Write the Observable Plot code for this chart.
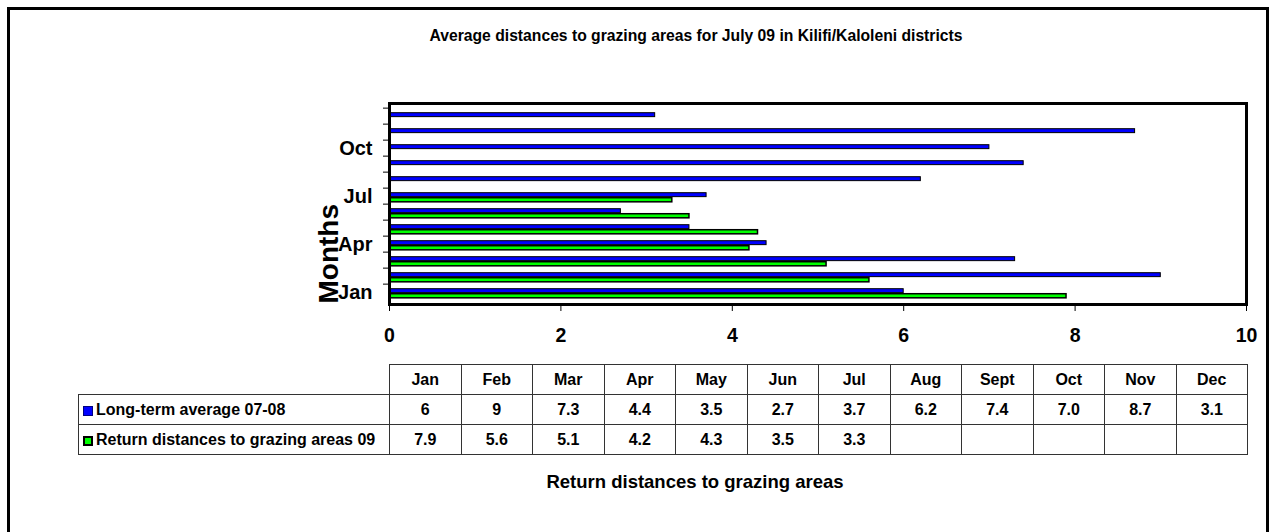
<!DOCTYPE html>
<html>
<head>
<meta charset="utf-8">
<script src="https://cdn.jsdelivr.net/npm/d3@7"></script>
<script src="https://cdn.jsdelivr.net/npm/@observablehq/plot@0.6"></script>
<style>
  html, body { margin: 0; padding: 0; background: #fff; }
  #wrap { position: relative; width: 1277px; height: 532px; overflow: hidden; font-family: Arial, "Liberation Sans", sans-serif; }
  #outer { position: absolute; left: 7px; top: 7px; width: 1262px; height: 560px; border: 3px solid #000; box-sizing: border-box; }
  #title { position: absolute; left: 0; width: 1392px; top: 27px; text-align: center; font-weight: bold; font-size: 15.7px; }
  #chart { position: absolute; left: 0; top: 0; }
  #tbl { position: absolute; left: 78px; top: 364px; border-collapse: collapse; font-weight: bold; font-size: 16px; }
  #tbl td { border: 1px solid #333; height: 30px; padding: 0; text-align: center; box-sizing: border-box; }
  #tbl td.m { width: 71.5px; }
  #tbl td.lab { width: 311px; text-align: left; padding-left: 4px; white-space: nowrap; }
  #tbl td.blank { border: none; border-bottom: 1px solid #333; }
  .sw { display: inline-block; width: 10px; height: 10px; margin-right: 3px; vertical-align: -1px; box-sizing: border-box; }
  #caption { position: absolute; left: 0; width: 1390px; top: 471px; text-align: center; font-weight: bold; font-size: 18.5px; }
</style>
</head>
<body>
<div id="wrap">
  <div id="outer"></div>
  <div id="title">Average distances to grazing areas for July 09 in Kilifi/Kaloleni districts</div>
  <div id="chart"></div>
  <table id="tbl"></table>
  <div id="caption">Return distances to grazing areas</div>
</div>
<script>
// ---- data ----
const months = ["Jan","Feb","Mar","Apr","May","Jun","Jul","Aug","Sep","Oct","Nov","Dec"];
const tableMonths = ["Jan","Feb","Mar","Apr","May","Jun","Jul","Aug","Sept","Oct","Nov","Dec"];
const longTermText = ["6","9","7.3","4.4","3.5","2.7","3.7","6.2","7.4","7.0","8.7","3.1"];
const return09Text = ["7.9","5.6","5.1","4.2","4.3","3.5","3.3","","","","",""];
const yLabels = ["Jan","Apr","Jul","Oct"];
const xTicks = [0, 2, 4, 6, 8, 10];
const seriesNames = ["Long-term average 07-08", "Return distances to grazing areas 09"];
const seriesColors = ["#0000ff", "#00ff00"];

const longTerm = months.map((m, i) => ({month: m, value: +longTermText[i]}));
const return09 = months.map((m, i) => ({month: m, value: return09Text[i] === "" ? null : +return09Text[i]}))
  .filter(d => d.value != null);

const W = 1277, H = 350, mT = 103, mB = 46, mL = 389, mR = 31;
const bw = (H - mT - mB) / months.length;

const chart = Plot.plot({
  width: W,
  height: H,
  marginTop: mT,
  marginBottom: mB,
  marginLeft: mL,
  marginRight: mR,
  style: {fontFamily: "Arial, 'Liberation Sans', sans-serif", fontWeight: "bold", fontSize: "19px", color: "#000", background: "transparent"},
  x: {domain: [0, 10]},
  y: {type: "band", domain: months, reverse: true, padding: 0},
  marks: [
    Plot.barX(longTerm, {y: "month", x: "value", fill: seriesColors[0], stroke: "#000", strokeWidth: 1, insetTop: bw * 0.28, insetBottom: bw * 0.44}),
    Plot.barX(return09, {y: "month", x: "value", fill: seriesColors[1], stroke: "#000", strokeWidth: 1.5, insetTop: bw * 0.58, insetBottom: bw * 0.13}),
    Plot.axisX({ticks: xTicks, tickSize: 7, tickPadding: 17, fontSize: 19.5, fontWeight: "bold", label: null}),
    Plot.axisY({ticks: months, tickSize: 6, tickFormat: null, dy: -bw / 2, label: null}),
    Plot.axisY({ticks: yLabels, tickSize: 0, tickPadding: 17, fontSize: 20, fontWeight: "bold", label: null}),
    Plot.text(["Months"], {frameAnchor: "bottom-left", rotate: -90, textAnchor: "start", dx: -52, dy: -1, fontSize: 28, fontWeight: "bold"}),
    Plot.frame({stroke: "#000", strokeWidth: 3})
  ]
});
document.getElementById("chart").appendChild(chart);

// ---- table ----
const tbl = d3.select("#tbl");
const hdr = tbl.append("tr");
hdr.append("td").attr("class", "blank lab");
tableMonths.forEach(m => hdr.append("td").attr("class", "m").text(m));
[longTermText, return09Text].forEach((row, k) => {
  const tr = tbl.append("tr");
  const lab = tr.append("td").attr("class", "lab");
  lab.append("span").attr("class", "sw")
    .style("background", seriesColors[k])
    .style("border", k === 0 ? "1px solid #000080" : "2px solid #000");
  lab.append("span").text(seriesNames[k]);
  row.forEach(v => tr.append("td").attr("class", "m").text(v));
});
</script>
</body>
</html>
